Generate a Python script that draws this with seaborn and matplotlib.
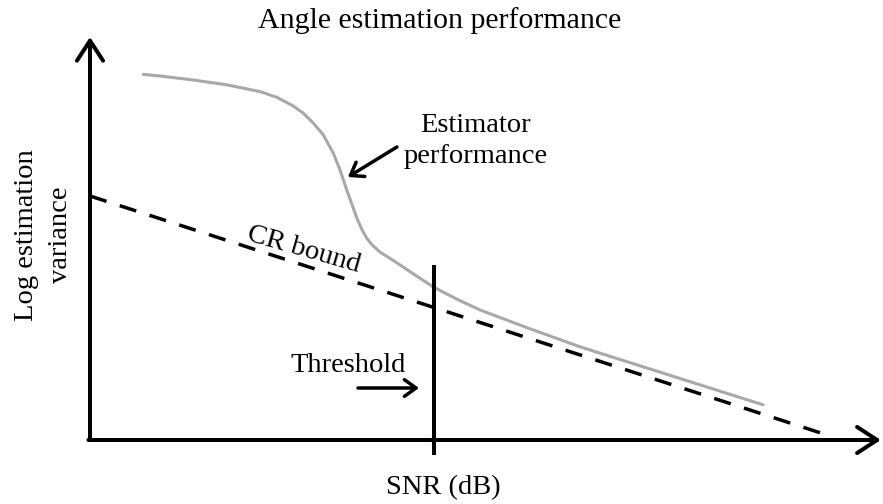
import numpy as np
import pandas as pd
import seaborn as sns
import matplotlib.pyplot as plt

# Estimator performance curve (arbitrary units)
est_snr = [2.70, 3.54, 5.23, 6.92, 8.61, 9.45, 10.29, 10.80, 11.31, 11.81,
           12.32, 12.66, 13.00, 13.33, 13.55, 13.82, 14.05, 14.28, 14.68,
           15.54, 16.35, 17.37, 18.58, 19.75, 22.28, 24.81, 34.08]
est_var = [9.14, 9.10, 9.00, 8.88, 8.71, 8.57, 8.35, 8.17, 7.92, 7.63,
           7.17, 6.75, 6.25, 5.80, 5.50, 5.21, 5.02, 4.88, 4.70,
           4.43, 4.16, 3.83, 3.52, 3.25, 2.78, 2.33, 0.88]

# Cramer-Rao bound (straight line)
cr_snr = [0.0, 37.6]
cr_var = [6.1, 0.08]

# Threshold marker
threshold_snr = 17.42
threshold_span = [-0.38, 4.38]

est_df = pd.DataFrame({'snr': est_snr, 'var': est_var})
cr_df = pd.DataFrame({'snr': cr_snr, 'var': cr_var})

sns.set_theme(style='white')
plt.rcParams['font.family'] = ['Liberation Serif', 'DejaVu Serif']
plt.rcParams['text.color'] = 'black'

fig = plt.figure(figsize=(8.83, 5.04), dpi=100)
# axes box: origin at (90px, 440px), 790px wide, 400px tall
ax = fig.add_axes([90 / 883, 64 / 504, 790 / 883, 400 / 504])
ax.set_xlim(0, 40)
ax.set_ylim(0, 10)
ax.axis('off')

sns.lineplot(data=est_df, x='snr', y='var', ax=ax, color='#a8a8a8',
             lw=2.2, estimator=None, clip_on=False)
sns.lineplot(data=cr_df, x='snr', y='var', ax=ax, color='black',
             lw=2.5, linestyle=(0, (5.0, 4.0)), estimator=None, clip_on=False)
ax.vlines(threshold_snr, threshold_span[0], threshold_span[1],
          color='black', lw=2.9, clip_on=False)

# axis arrows
axis_arrow = dict(arrowstyle='->,head_length=0.72,head_width=0.47',
                  mutation_scale=20, lw=2.9, color='black',
                  shrinkA=0, shrinkB=0)
ax.annotate('', xy=(0, 1.0075), xytext=(0, 0), xycoords='axes fraction',
            arrowprops=axis_arrow, annotation_clip=False)
ax.annotate('', xy=(1.001, 0), xytext=(-0.002, 0), xycoords='axes fraction',
            arrowprops=axis_arrow, annotation_clip=False)

small_arrow = dict(arrowstyle='->,head_length=0.42,head_width=0.3',
                   mutation_scale=20, lw=2.5, color='black',
                   shrinkA=0, shrinkB=0)
ax.annotate('', xy=(16.66, 1.3), xytext=(13.57, 1.3), arrowprops=small_arrow)
ax.annotate('', xy=(13.06, 6.575), xytext=(15.54, 7.325), arrowprops=small_arrow)

fs = 20.5
ax.text(13.06, 1.7, 'Threshold', fontsize=fs, ha='center', va='baseline')
ax.text(19.54, 7.7, 'Estimator', fontsize=fs, ha='center', va='baseline')
ax.text(19.54, 6.925, 'performance', fontsize=fs, ha='center', va='baseline')
ax.text(10.73, 4.6, 'CR bound', fontsize=fs, ha='center', va='baseline',
        rotation=-16, rotation_mode='anchor')

# labels and title
ax.text(0.447, -0.12, 'SNR (dB)', fontsize=fs, ha='center', va='center',
        transform=ax.transAxes)
ax.text(-0.0722, 0.5125, 'Log estimation', fontsize=fs, ha='center',
        va='baseline', rotation=90, rotation_mode='anchor',
        transform=ax.transAxes)
ax.text(-0.0291, 0.5125, 'variance', fontsize=fs, ha='center',
        va='baseline', rotation=90, rotation_mode='anchor',
        transform=ax.transAxes)
ax.text(0.443, 1.049, 'Angle estimation performance', fontsize=21.5,
        ha='center', va='center', transform=ax.transAxes)

fig.savefig('out.png', dpi=100)
